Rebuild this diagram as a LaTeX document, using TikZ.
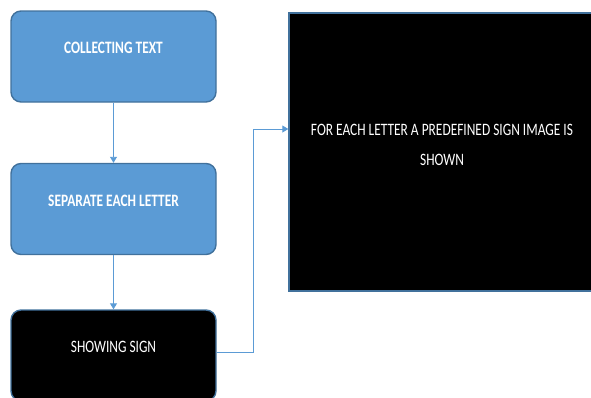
\documentclass[tikz,border=0pt]{standalone}
\usepackage{fontspec}
\setmainfont{Carlito}
\usetikzlibrary{arrows.meta,calc}
\definecolor{obox}{HTML}{5B9BD5}
\definecolor{oedge}{HTML}{41719C}
\definecolor{oline}{HTML}{5B9BD5}
\newcommand{\vtxt}[1]{\raisebox{3pt}[0pt][0pt]{\scalebox{1}[1.3]{#1}}}
\tikzset{
  stepbox/.style={draw=oedge, line width=1.4pt, rounded corners=10pt,
    minimum width=205pt, minimum height=91pt, inner sep=0pt,
    font=\fontsize{13.4}{16}\selectfont, text=white},
  bluebox/.style={stepbox, fill=obox, font=\fontsize{13.4}{16}\selectfont\bfseries},
  blackbox/.style={stepbox, fill=black},
  bigbox/.style={draw=oedge, line width=1.4pt, fill=black, text=white,
    minimum width=306pt, minimum height=278pt, inner sep=0pt,
    font=\fontsize{13.4}{23}\selectfont},
  conn/.style={draw=oline, line width=0.9pt, -{Triangle[length=6pt,width=7pt]}}
}
\begin{document}
\begin{tikzpicture}[x=1pt,y=-1pt]
\useasboundingbox (0,0) rectangle (591,397);
\clip (0,0) rectangle (591,397);
\node[bluebox] (c1) at (113.5,56.5) {\vtxt{COLLECTING TEXT}};
\node[bluebox] (c2) at (113.5,209) {\vtxt{SEPARATE EACH LETTER}};
\node[blackbox] (c3) at (113.5,355.5) {\vtxt{SHOWING SIGN}};
\node[bigbox] (big) at (442,152) {\raisebox{-13.5pt}[0pt][0pt]{\scalebox{1}[1.3]{\begin{tabular}[b]{@{}c@{}}FOR EACH LETTER A PREDEFINED SIGN IMAGE IS\\SHOWN\end{tabular}}}};
\coordinate (k) at (253,129);
\draw[conn] (c1.south) -- (c2.north);
\draw[conn] (c2.south) -- (c3.north);
\draw[conn] ([yshift=3.5pt]c3.east) -| (k) -- (k -| big.west);
\end{tikzpicture}
\end{document}
